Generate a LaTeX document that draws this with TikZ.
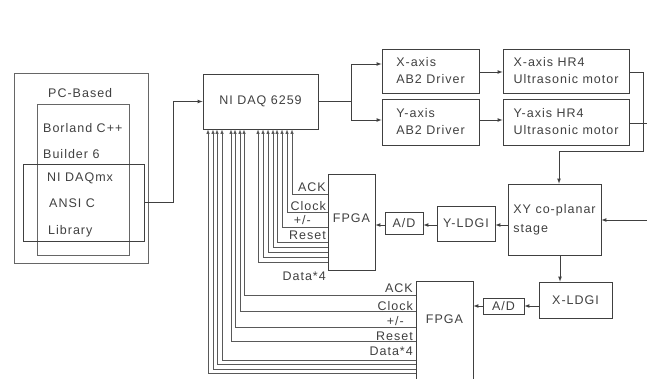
\documentclass[tikz,border=0pt]{standalone}
\usepackage{fontspec}
\setmainfont{Liberation Sans}[LetterSpace=8]
\begin{document}
\begin{tikzpicture}[x=1pt,y=-1pt,
    blk/.style={draw=black!75,line width=0.8pt,rectangle,inner sep=0pt,align=left,
                font=\fontsize{12.5}{17}\selectfont,text=black!75},
    frame/.style={draw=black!60,line width=0.8pt,rectangle,inner sep=0pt},
    txt/.style={inner sep=0pt,anchor=base west,font=\fontsize{12.5}{14}\selectfont,text=black!75},
    sig/.style={inner sep=0pt,anchor=base east,font=\fontsize{12.5}{14}\selectfont,text=black!75},
    wire/.style={draw=black!75,line width=0.7pt},
    bus/.style={draw=black!65,line width=0.6pt}
]
\useasboundingbox (0,0) rectangle (647,379);
\clip (0,0) rectangle (647,379);

% PC side
\node[frame,minimum width=134pt,minimum height=190pt] (pcbox) at (81,168) {};
\node[frame,minimum width=92pt,minimum height=151pt]  (borbox) at (83,179.5) {};
\node[blk,minimum width=121pt,minimum height=77pt]    (daqmx) at (83.5,202.5) {};
\node[txt] (pctxt)   at (48,98)  {PC-Based};
\node[txt] (bortxt)  at (43,133) {Borland C++};
\node[txt] (bldtxt)  at (43,159) {Builder 6};
\node[txt] (nitxt)   at (47,182) {NI DAQmx};
\node[txt] (ansitxt) at (49,208) {ANSI C};
\node[txt] (libtxt)  at (48,234) {Library};

% DAQ and motors
\node[blk,minimum width=115pt,minimum height=55pt] (daq)  at (260.5,101.5) {NI DAQ 6259};
\node[blk,minimum width=97pt,minimum height=44pt]  (xdrv) at (430.5,71)  {X-axis\\AB2 Driver};
\node[blk,minimum width=97pt,minimum height=46pt]  (ydrv) at (430.5,122) {Y-axis\\AB2 Driver};
\node[blk,minimum width=126pt,minimum height=44pt] (xmot) at (566,71)    {X-axis HR4\\Ultrasonic motor};
\node[blk,minimum width=126pt,minimum height=46pt] (ymot) at (566,122)   {Y-axis HR4\\Ultrasonic motor};

% stage and sensors
\node[blk,minimum width=93pt,minimum height=71pt,font=\fontsize{12.5}{19}\selectfont] (stage) at (554.5,219.5) {XY co-planar\\stage};
\node[blk,minimum width=58pt,minimum height=35pt] (yldgi) at (466,223.5) {Y-LDGI};
\node[blk,minimum width=38pt,minimum height=22pt] (adone) at (404,223)   {A/D};
\node[blk,minimum width=47pt,minimum height=96pt,label={[yshift=4pt,text=black!75,font=\fontsize{12.5}{14}\selectfont]center:FPGA}] (fpgaone) at (351.5,222) {};
\node[blk,minimum width=73pt,minimum height=36pt] (xldgi) at (575.5,300) {X-LDGI};
\node[blk,minimum width=41pt,minimum height=16pt] (adtwo) at (503.5,306) {A/D};
\node[blk,minimum width=57pt,minimum height=109pt,label={[yshift=16pt,text=black!75,font=\fontsize{12.5}{14}\selectfont]center:FPGA}] (fpgatwo) at (444.5,335.5) {};

\coordinate (yout) at (647,123);
\coordinate (yin)  at (647,220);

% connectors
\draw[wire,-latex] (daqmx.east) -- ++(29,0) |- (daq.west);
\draw[wire] (daq.east) -- ++(33,0) coordinate (split);
\draw[wire,-latex] (split) |- (xdrv.west |- 0,64);
\draw[wire,-latex] (split) |- (ydrv.west |- 0,120);
\draw[wire,-latex] (xdrv.east |- 0,72) -- (xmot.west |- 0,72);
\draw[wire,-latex] (ydrv.east |- 0,120) -- (ymot.west |- 0,120);
\draw[wire,-latex] (xmot.east |- 0,72) -- (643,72) |- (559,151) -- (stage.north -| 559,0);
\draw[wire] (ymot.east |- yout) -- (yout);
\draw[wire,-latex] (yin) -- (stage.east |- yin);
\draw[wire,-latex] (stage.west |- 0,225) -- (yldgi.east |- 0,225);
\draw[wire,-latex] (yldgi.west |- 0,225) -- (adone.east |- 0,225);
\draw[wire,-latex] (adone.west |- 0,225) -- (fpgaone.east |- 0,225);
\draw[wire,-latex] (stage.south -| 560,0) -- (xldgi.north -| 560,0);
\draw[wire,-latex] (xldgi.west |- 0,306) -- (adtwo.east |- 0,306);
\draw[wire,-latex] (adtwo.west |- 0,306) -- (fpgatwo.east |- 0,306);

% buses back to the DAQ
\foreach \x/\y in {292/194,287/212,282/227,277/242,273/247,268/252,263/257,258/262}
  \draw[bus,-latex] (fpgaone.west |- 0,\y) -| (daq.south -| \x,0);
\foreach \x/\y in {244/295,240/311,235/327,231/341,222/360,217/364.5,213/369,208/373.5}
  \draw[bus,-latex] (fpgatwo.west |- 0,\y) -| (daq.south -| \x,0);

% signal names
\node[sig] (ackone) at (326,192) {ACK};
\node[sig] (clkone) at (326,211) {Clock};
\node[sig] (pmone)  at (311,225) {+/-};
\node[sig] (rstone) at (326,240) {Reset};
\node[sig] (datone) at (326,280) {Data*4};
\node[sig] (acktwo) at (413,292) {ACK};
\node[sig] (clktwo) at (413,310) {Clock};
\node[sig] (pmtwo)  at (404,325) {+/-};
\node[sig] (rsttwo) at (413,340) {Reset};
\node[sig] (dattwo) at (413,355) {Data*4};
\end{tikzpicture}
\end{document}
